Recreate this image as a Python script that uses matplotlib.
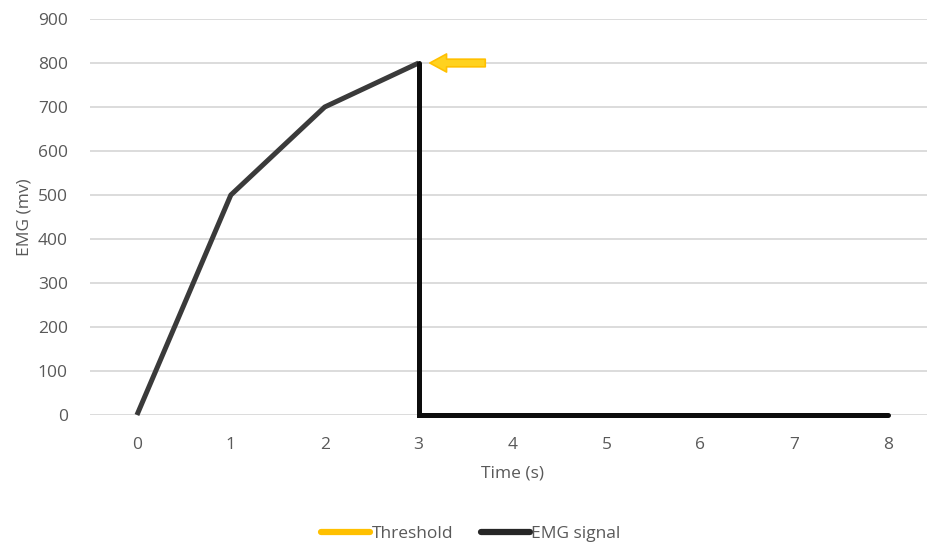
import matplotlib
matplotlib.use("Agg")
import matplotlib.pyplot as plt
from matplotlib.lines import Line2D

# EMG recording: rise, then cut-off at the threshold, then flat
rise_time = [0, 1, 2, 3]
rise_emg = [0, 500, 700, 800]
cut_time = [3, 3, 4, 5, 6, 7, 8]
cut_emg = [800, 0, 0, 0, 0, 0, 0]

threshold_time = 3
threshold_value = 800

x_ticks = [0, 1, 2, 3, 4, 5, 6, 7, 8]
y_ticks = [0, 100, 200, 300, 400, 500, 600, 700, 800, 900]

plt.rcParams["font.family"] = ["Open Sans", "DejaVu Sans"]
label_color = "#595959"
fs = 12.5

fig = plt.figure(figsize=(9.27, 5.44), dpi=100)
ax = fig.add_axes([90 / 927, 1 - 415 / 544, 845 / 927, 396 / 544])

ax.plot(rise_time, rise_emg, color="#3a3a3a", lw=3.6, solid_capstyle="butt",
        solid_joinstyle="round", zorder=3, clip_on=False)
ax.plot(cut_time, cut_emg, color="#0d0d0d", lw=3.6, solid_capstyle="round",
        solid_joinstyle="miter", zorder=4, clip_on=False)

# arrow marking the threshold
ax.annotate("", xy=(threshold_time + 0.12, threshold_value),
            xytext=(threshold_time + 0.71, threshold_value),
            arrowprops=dict(arrowstyle="simple,head_length=1.2,head_width=1.3,tail_width=0.55",
                            fc="#FFD21F", ec="#FFC000", lw=1.2, shrinkA=0, shrinkB=0),
            zorder=5)

ax.set_xlim(-0.5, 8.5)
ax.set_ylim(0, 900)
ax.set_xticks(x_ticks)
ax.set_yticks(y_ticks)
ax.grid(axis="y", color="#d9d9d9", lw=1.3)
ax.set_axisbelow(True)
for s in ax.spines.values():
    s.set_visible(False)
ax.tick_params(length=0, labelsize=fs, labelcolor=label_color)
ax.tick_params(axis="x", pad=16)
ax.tick_params(axis="y", pad=16)

ax.set_xlabel("Time (s)", fontsize=fs, color=label_color, labelpad=9)
ax.set_ylabel("EMG (mv)", fontsize=fs, color=label_color, labelpad=4)

handles = [Line2D([], [], color="#FFC000", lw=4.5, solid_capstyle="round"),
           Line2D([], [], color="#262626", lw=4.5, solid_capstyle="round")]
fig.legend(handles, ["Threshold", "EMG signal"], loc="center",
           bbox_to_anchor=(0.508, 0.018), ncol=2, frameon=False, fontsize=fs,
           labelcolor=label_color, handlelength=2.8, handletextpad=0.1,
           columnspacing=1.6)

fig.savefig("out.png", dpi=100, facecolor="white")
